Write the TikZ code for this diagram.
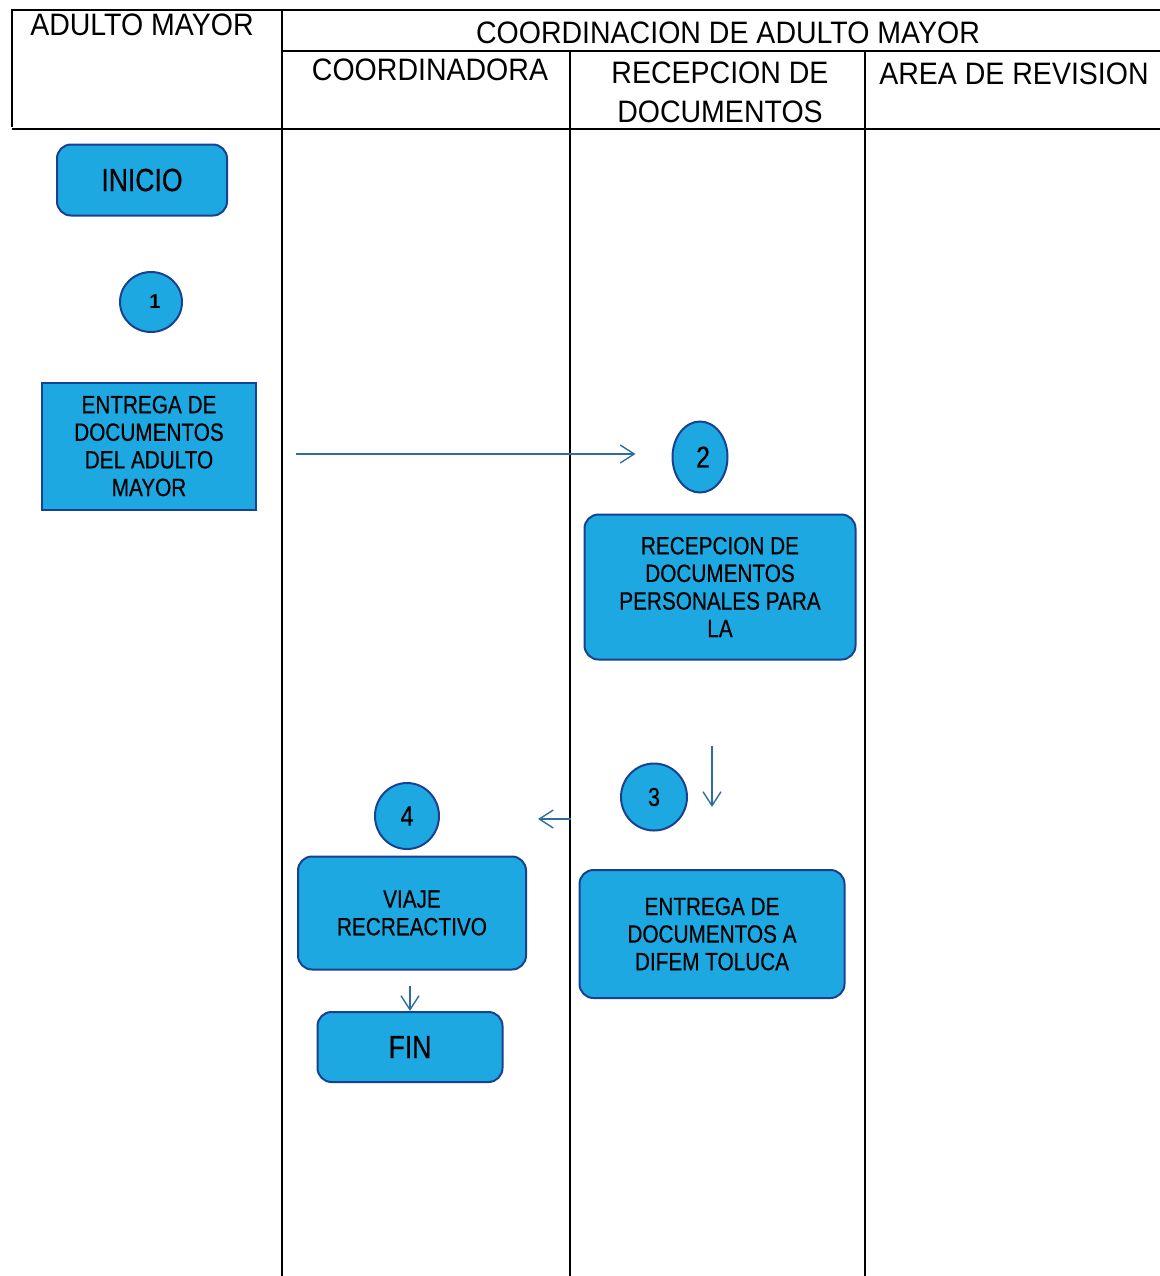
\documentclass[tikz,border=0pt]{standalone}
\usepackage{fontspec}
\setmainfont{Liberation Sans}
\newfontfamily\estrecha[FakeStretch=0.92]{Liberation Sans}
\newfontfamily\cajafont[FakeStretch=0.83,FakeBold=0.4]{Liberation Sans}
\usetikzlibrary{calc,arrows.meta,shapes.geometric}
\definecolor{relleno}{RGB}{30,168,225}
\definecolor{borde}{RGB}{25,65,145}
\definecolor{azulflecha}{RGB}{45,110,160}

\begin{document}
\begin{tikzpicture}[x=0.5pt,y=-0.5pt,
	caja/.style={draw=borde,line width=1pt,fill=relleno,rounded corners=7pt,align=center,inner sep=0pt,font=\cajafont\fontsize{12.5}{13.8}\selectfont},
	paso/.style={draw=borde,line width=1pt,fill=relleno,ellipse,inner sep=0pt},
	titulo/.style={align=center,inner sep=0pt,font=\estrecha\fontsize{15.5}{19.5}\selectfont},
	flecha/.style={draw=azulflecha,line width=0.7pt,-{Straight Barb[length=7pt,width=9pt]}}]
	\useasboundingbox (0,0) rectangle (1160,1276);
	% tabla
	\draw[line width=1pt] (12,127)--(12,10)--(1160,10);
	\draw[line width=1pt] (12,129)--(1160,129);
	\draw[line width=1pt] (282,10)--(282,1276);
	\draw[line width=1pt] (282,51)--(1160,51);
	\draw[line width=1pt] (570,51)--(570,1276);
	\draw[line width=1pt] (865,51)--(865,1276);
	\node[titulo] (adulto) at (142,25) {ADULTO MAYOR};
	\node[titulo] (coord) at (728,33) {COORDINACION DE ADULTO MAYOR};
	\node[titulo] (coordinadora) at (430,70) {COORDINADORA};
	\node[titulo] (recepcion) at (720,92) {RECEPCION DE\\DOCUMENTOS};
	\node[titulo] (revision) at (1014,74) {AREA DE REVISION};
	% pasos
	\node[caja,minimum width=85pt,minimum height=35.5pt,font=\cajafont\fontsize{16}{18}\selectfont] (inicio) at (142,180) {INICIO};
	\node[paso,minimum width=31pt,minimum height=30pt,font=\fontsize{10}{12}\bfseries] (c1) at (151,302) {\hspace{4pt}1};
	\node[caja,rounded corners=0pt,minimum width=107pt,minimum height=63.5pt] (entrega) at (149,446) {ENTREGA DE\\DOCUMENTOS\\DEL ADULTO\\MAYOR};
	\node[paso,minimum width=27.5pt,minimum height=35.5pt,font=\cajafont\fontsize{15}{17}\selectfont] (c2) at (700,457) {\hspace{3pt}2};
	\node[caja,minimum width=135.5pt,minimum height=72.5pt] (recep) at (720,587) {RECEPCION DE\\DOCUMENTOS\\PERSONALES PARA\\LA};
	\node[paso,minimum width=33pt,minimum height=33.5pt,font=\cajafont\fontsize{13}{15}\selectfont] (c3) at (654,797) {3};
	\node[paso,minimum width=32pt,minimum height=33pt,font=\cajafont\fontsize{14}{16}\selectfont] (c4) at (407,816) {4};
	\node[caja,minimum width=114pt,minimum height=56.5pt] (viaje) at (412,913) {VIAJE\\RECREACTIVO};
	\node[caja,minimum width=132.5pt,minimum height=64pt] (difem) at (712,934) {ENTREGA DE\\DOCUMENTOS A\\DIFEM TOLUCA};
	\node[caja,minimum width=92.5pt,minimum height=35pt,font=\cajafont\fontsize{16}{18}\selectfont] (fin) at (410,1047) {FIN};
	% flechas
	\draw[flecha] ($(entrega.east)+(39,8)$) -- ($(c2.west)+(-36,-3)$);
	\draw[flecha] ($(recep.south)+(-8,85)$) -- ($(difem.north)+(0,-62)$);
	\draw[flecha] ($(c3.west)+(-49,22)$) -- ($(c4.east)+(98,3)$);
	\draw[flecha] ($(viaje.south)+(-2,15)$) -- (fin.north);
\end{tikzpicture}
\end{document}
